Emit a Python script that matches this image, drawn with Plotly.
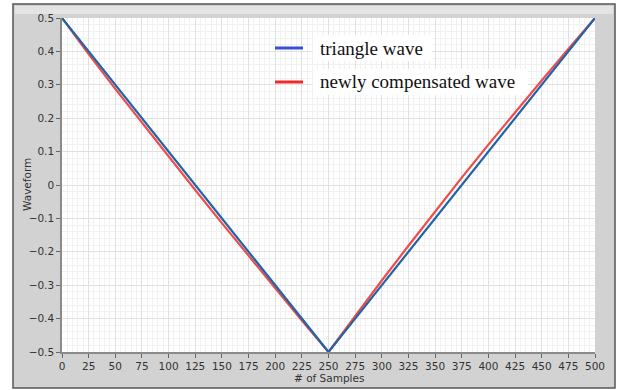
import plotly.graph_objects as go

samples = [0, 25, 50, 75, 100, 125, 150, 175, 200, 225, 250,
           275, 300, 325, 350, 375, 400, 425, 450, 475, 500]
triangle = [0.5, 0.4, 0.3, 0.2, 0.1, 0.0, -0.1, -0.2, -0.3, -0.4, -0.5,
            -0.4, -0.3, -0.2, -0.1, 0.0, 0.1, 0.2, 0.3, 0.4, 0.5]
compensated = [0.5, 0.392, 0.288, 0.186, 0.085, -0.015, -0.114, -0.212, -0.31, -0.406, -0.5,
               -0.392, -0.286, -0.182, -0.079, 0.022, 0.121, 0.218, 0.313, 0.407, 0.5]
legend_names = ["triangle wave", "newly compensated wave"]
legend_colors = ["#3a4fd6", "#ee2a2a"]

W, H = 621, 390
L, R, T, B = 62, 26, 18, 38
pw, ph = W - L - R, H - T - B

def px(x):
    return (x - L) / pw

def py(y):
    return (H - B - y) / ph

fig = go.Figure()
fig.add_trace(go.Scatter(x=samples, y=compensated, mode="lines",
                         line=dict(color="#f24b4b", width=2.2), showlegend=False))
fig.add_trace(go.Scatter(x=samples, y=triangle, mode="lines",
                         line=dict(color="#1f63a8", width=2.2), showlegend=False))

shapes = [
    dict(type="rect", xref="paper", yref="paper", x0=px(13), x1=px(615), y0=py(388), y1=py(4),
         fillcolor="#d2d2d2", line=dict(color="#555555", width=1.5), layer="below"),
    dict(type="rect", xref="paper", yref="paper", x0=px(15), x1=px(613), y0=py(14), y1=py(6),
         fillcolor="#e4e4e4", line=dict(width=0), layer="below"),
    dict(type="rect", xref="paper", yref="paper", x0=0, x1=1, y0=0, y1=1,
         fillcolor="white", line=dict(width=0), layer="below"),
]
annotations = []
box_right = [432, 528]
for i, (name, col) in enumerate(zip(legend_names, legend_colors)):
    yc = 48 + i * 34
    shapes.append(dict(type="rect", xref="paper", yref="paper", x0=px(313), x1=px(box_right[i]),
                       y0=py(yc + 13), y1=py(yc - 13), fillcolor="white", line=dict(width=0), layer="above"))
    shapes.append(dict(type="line", xref="paper", yref="paper", x0=px(275), x1=px(303), y0=py(yc), y1=py(yc),
                       line=dict(color=col, width=3), layer="above"))
    annotations.append(dict(text=name, xref="paper", yref="paper", x=px(318), y=py(yc),
                            xanchor="left", yanchor="middle", showarrow=False,
                            font=dict(family="Liberation Serif", size=19, color="#111111")))

title_font = dict(family="DejaVu Sans", size=10.5, color="#333333")
annotations.append(dict(text="# of Samples", xref="paper", yref="paper", x=0.5, y=py(378),
                        xanchor="center", yanchor="middle", showarrow=False, font=title_font))
annotations.append(dict(text="Waveform", xref="paper", yref="paper", x=px(27), y=0.5, textangle=-90,
                        xanchor="center", yanchor="middle", showarrow=False, font=title_font))

axis_common = dict(showline=True, linecolor="#8a8a8a", linewidth=1.5, ticks="outside", ticklen=4,
                   tickcolor="#666666", gridcolor="#e0e0e0", gridwidth=1, zeroline=False,
                   tickfont=dict(family="DejaVu Sans", size=10.5, color="#333333"), mirror=False)
fig.update_layout(
    width=W, height=H, margin=dict(l=L, r=R, t=T, b=B),
    paper_bgcolor="white", plot_bgcolor="rgba(0,0,0,0)",
    shapes=shapes, annotations=annotations, showlegend=False,
    xaxis=dict(range=[0, 500], dtick=25, tick0=0,
               minor=dict(dtick=5, showgrid=True, gridcolor="#f1f1f1", gridwidth=1),
               **axis_common),
    yaxis=dict(range=[-0.5, 0.5], dtick=0.1, tick0=0,
               minor=dict(dtick=0.02, showgrid=True, gridcolor="#f1f1f1", gridwidth=1),
               **axis_common),
)
fig.write_html("out.html")
